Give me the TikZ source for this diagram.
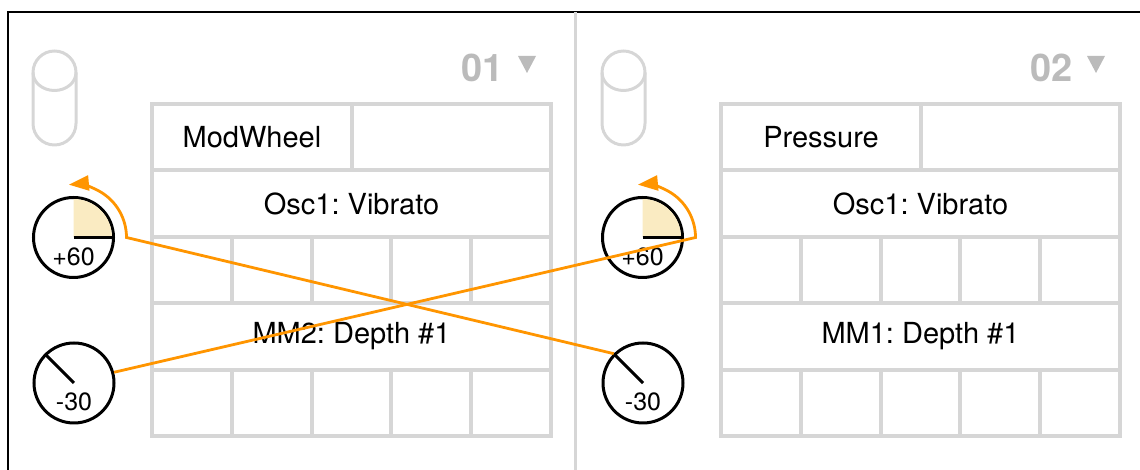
\documentclass[tikz,border=0pt]{standalone}
\usepackage{fontspec}
\setmainfont{TeX Gyre Heros}
\usepackage{xcolor}
\usepackage{tikz}
\usetikzlibrary{arrows.meta,positioning}
\definecolor{gridgray}{HTML}{D6D6D6}
\definecolor{taggray}{HTML}{BBBBBB}
\definecolor{wireorange}{HTML}{FF9500}
\definecolor{softbeige}{HTML}{FAEBC2}
\frenchspacing

\begin{document}
\begin{tikzpicture}[x=1pt, y=1pt, every node/.style={font=\fontsize{29}{35}\selectfont},
  cell/.style={rectangle, draw=gridgray, line width=4pt, outer sep=0pt, inner sep=0pt, minimum height=66.4pt},
  knob/.style={circle, draw, line width=3pt, minimum size=80pt, inner sep=0pt},
  knobval/.style={font=\fontsize{25}{29}\selectfont, inner sep=0pt},
  tag/.style={font=\fontsize{38}{44}\selectfont\bfseries, text=taggray, inner sep=0pt},
  wheel/.style={draw=gridgray, line width=3pt},
  wire/.style={draw=wireorange, line width=2.8pt, -{Triangle[length=20pt, width=15pt]}}]
  \useasboundingbox (0,0) rectangle (1140,470);
  \draw[line width=1.3pt] (8,0) -- (8,458) -- (1140,458);
  \draw[gridgray, line width=3pt] (575,0) -- (575,458);
  \foreach \x/\n/\src/\dst/\p in {0/01/ModWheel/MM2/A, 569/02/Pressure/MM1/B} {
    % wheel and slot number
    \draw[wheel, rounded corners=21.5pt] (\x+33,325) rectangle (\x+76,419);
    \draw[wheel] (\x+33,397.5) arc (180:360:21.5 and 18);
    \node[tag] (num\p) at (\x+482.5,402) {\n};
    \fill[taggray] (\x+518,414) -- (\x+536,414) -- (\x+527,397) -- cycle;
    % grid
    \node[cell, minimum width=200pt, anchor=north west] (src\p) at (\x+152,366) {\src};
    \node[cell, minimum width=199pt, right=0pt of src\p] (free\p) {};
    \node[cell, minimum width=399pt, anchor=north west] (osc\p) at (src\p.south west) {Osc1: Vibrato};
    \foreach \col in {0,...,4}
      \node[cell, minimum width=79.8pt, anchor=north west] (top\p\col) at (\x+152+\col*79.8,233.2) {};
    \node[cell, minimum width=399pt, anchor=north west] (dst\p) at (\x+152,166.8) {\dst: Depth \#1};
    \foreach \col in {0,...,4}
      \node[cell, minimum width=79.8pt, anchor=north west] (bot\p\col) at (\x+152+\col*79.8,100.4) {};
    % knobs
    \node[knob] (knob\p1) at (\x+73.5,232.5) {};
    \fill[softbeige] (knob\p1.center) -- ++(38.5,0) arc (0:90:38.5) -- cycle;
    \draw[line width=3pt] (knob\p1.center) -- (knob\p1.east);
    \node[knobval] (val\p1) at ([yshift=-19pt]knob\p1.center) {+60};
    \node[knob] (knob\p2) at (\x+74,87) {};
    \draw[line width=3pt] (knob\p2.center) -- (knob\p2.135);
    \node[knobval] (val\p2) at ([yshift=-19pt]knob\p2.center) {-30};
    \coordinate (turn\p) at ([xshift=53pt]knob\p1.center);
  }
  \draw[wire] (knobA2.15) -- (turnB) arc (0:95:53);
  \draw[wire] (knobB2.135) -- (turnA) arc (0:95:53);
\end{tikzpicture}
\end{document}
